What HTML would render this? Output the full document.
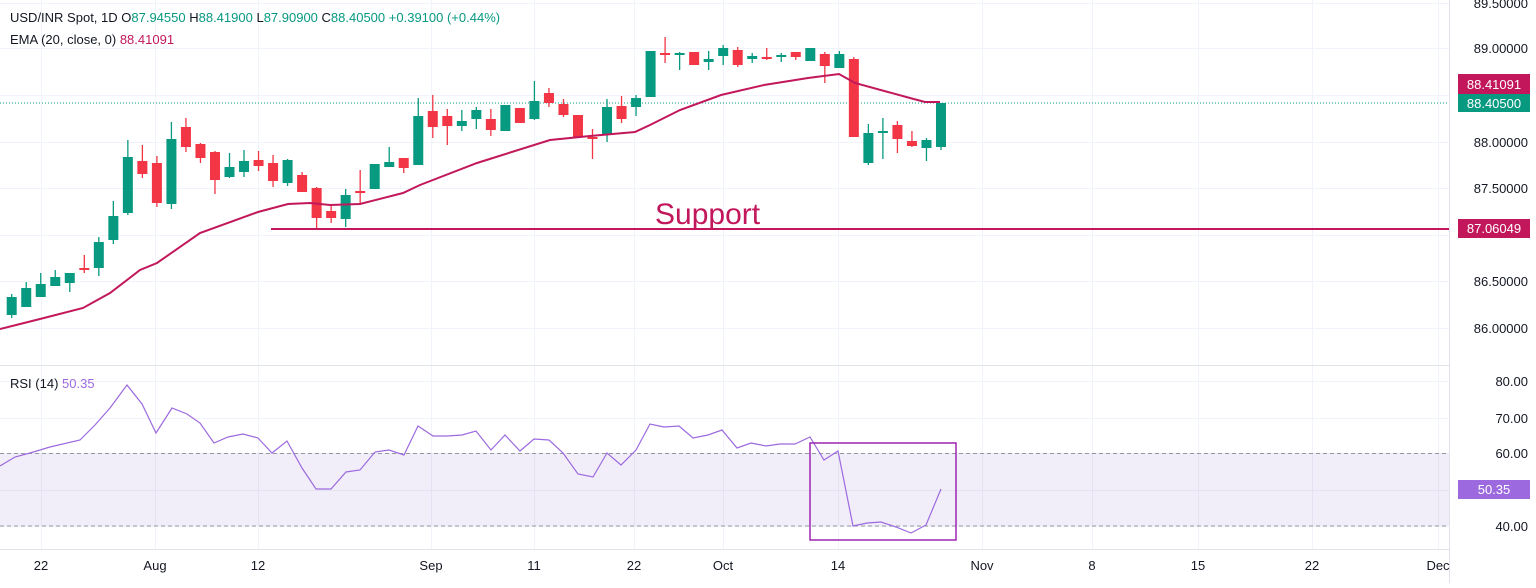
<!DOCTYPE html>
<html><head><meta charset="utf-8"><style>
body{margin:0;background:#fff;width:1536px;height:583px;overflow:hidden;font-family:"Liberation Sans",sans-serif}
svg text{font-family:"Liberation Sans",sans-serif}
</style></head><body>
<svg id="s" width="1536" height="583" xmlns="http://www.w3.org/2000/svg">
<g id="grid" stroke="#f0f3fa" stroke-width="1"></g>
<rect x="0" y="453.5" width="1449" height="72.5" fill="#7e57c2" fill-opacity="0.1"/>
<line x1="0" y1="453.5" x2="1449" y2="453.5" stroke="#9598a1" stroke-dasharray="4,3"/>
<line x1="0" y1="526" x2="1449" y2="526" stroke="#9598a1" stroke-dasharray="4,3"/>
<line x1="0" y1="103" x2="1449" y2="103" stroke="#089981" stroke-dasharray="1,2"/>
<g id="c"></g>
<polyline fill="none" stroke="#c2185b" stroke-width="2" points="0,329 40,319 83,308 110,293 140,270 157,263 200,233 258,212 288,204 310,203 330,205 360,204 403,193 420,185 477,163 550,140 590,136 635,132 650,125 680,110 721,95 764,85 808,78 839,74 855,83 910,98 925,102 940,102"/>
<line x1="271" y1="229" x2="1449" y2="229" stroke="#c2185b" stroke-width="2"/>
<text x="655" y="224" font-size="30" fill="#c2185b">Support</text>
<line x1="0" y1="365.5" x2="1449" y2="365.5" stroke="#e0e3eb"/>
<line x1="1449.5" y1="0" x2="1449.5" y2="583" stroke="#e0e3eb"/>
<line x1="0" y1="549.5" x2="1449" y2="549.5" stroke="#e0e3eb"/>
<polyline fill="none" stroke="#9c6ade" stroke-width="1.2" points="0,466 15,457 30,453 50,447 80,440 95,425 110,408 127,385 142,404 156,433 172,408 187,414 200,423 214,443 228,437 243,434 258,438 272,453 287,441 302,468 316,489 331,489 346,472 360,470 375,452 389,450 404,455 418,426 433,436 447,436 462,435 476,431 491,450 505,435 520,451 534,439 549,440 563,453 578,474 593,477 607,453 621,465 636,450 650,424 664,427 679,426 693,438 708,435 722,430 737,448 751,443 766,446 780,444 795,444 810,437 824,460 838,451 853,526 867,523 881,522 896,527 911,533 926,525 941,489"/>
<rect x="810" y="443" width="146" height="97" fill="none" stroke="#9c27b0" stroke-width="1.5"/>
<g font-size="13" fill="#131722">
<text x="10" y="22">USD/INR Spot, 1D  O<tspan fill="#089981">87.94550</tspan>  H<tspan fill="#089981">88.41900</tspan>  L<tspan fill="#089981">87.90900</tspan>  C<tspan fill="#089981">88.40500</tspan>  <tspan fill="#089981">+0.39100 (+0.44%)</tspan></text>
<text x="10" y="44">EMA (20, close, 0)  <tspan fill="#c2185b">88.41091</tspan></text>
<text x="10" y="388">RSI (14)  <tspan fill="#9c6ade">50.35</tspan></text>
</g>
<g font-size="13" fill="#131722" text-anchor="end">
<text x="1528" y="8">89.50000</text>
<text x="1528" y="53">89.00000</text>
<text x="1528" y="147">88.00000</text>
<text x="1528" y="193">87.50000</text>
<text x="1528" y="286">86.50000</text>
<text x="1528" y="333">86.00000</text>
<text x="1528" y="386">80.00</text>
<text x="1528" y="423">70.00</text>
<text x="1528" y="458">60.00</text>
<text x="1528" y="531">40.00</text>
</g>
<rect x="1458" y="74" width="72" height="20" fill="#c2185b"/><text x="1494" y="89" font-size="13" fill="#fff" text-anchor="middle">88.41091</text>
<rect x="1458" y="94" width="72" height="18" fill="#089981"/><text x="1494" y="108" font-size="13" fill="#fff" text-anchor="middle">88.40500</text>
<rect x="1458" y="219" width="72" height="19" fill="#c2185b"/><text x="1494" y="233" font-size="13" fill="#fff" text-anchor="middle">87.06049</text>
<rect x="1458" y="480" width="72" height="19" fill="#9c6ade"/><text x="1494" y="494" font-size="13" fill="#fff" text-anchor="middle">50.35</text>
<g font-size="13" fill="#131722" text-anchor="middle">
<text x="41" y="570">22</text><text x="155" y="570">Aug</text><text x="258" y="570">12</text><text x="431" y="570">Sep</text><text x="534" y="570">11</text><text x="634" y="570">22</text><text x="723" y="570">Oct</text><text x="838" y="570">14</text><text x="982" y="570">Nov</text><text x="1092" y="570">8</text><text x="1198" y="570">15</text><text x="1312" y="570">22</text><text x="1438" y="570">Dec</text>
</g>
</svg>
<script>
var NS="http://www.w3.org/2000/svg";
function el(p,t,a){var e=document.createElementNS(NS,t);for(var k in a)e.setAttribute(k,a[k]);p.appendChild(e);return e;}
var g=document.getElementById("grid");
[3,48,95,142,188,235,281,328,381,418,453,490,526].forEach(function(y){el(g,"line",{x1:0,x2:1449,y1:y+.5,y2:y+.5});});
[41,155,258,431,534,634,723,838,982,1092,1198,1312,1438].forEach(function(x){el(g,"line",{x1:x+.5,x2:x+.5,y1:0,y2:549});});
var d=[
[294,318,297,315,1],[282,307,288,307,1],[273,297,284,297,1],[270,286,277,286,1],[273,292,273,283,1],[255,273,268,270,0],[237,276,242,268,1],[201,244,216,240,1],[140,215,157,213,1],[145,178,161,174,0],[156,207,163,203,0],[122,209,139,204,1],[118,152,127,147,0],[143,163,144,158,0],[151,194,152,180,0],[153,178,167,177,1],[150,177,161,172,1],[151,171,160,166,0],[155,187,163,181,0],[159,186,160,183,1],[172,192,175,192,0],[187,228,188,218,0],[204,223,211,218,0],[189,227,195,219,1],[170,205,191,193,0],[164,189,164,189,1],[147,167,162,167,1],[158,173,158,168,0],[98,165,116,165,1],[95,138,111,127,0],[109,145,116,126,0],[110,131,121,126,1],[107,129,110,119,1],
[109,136,119,130,0],[105,131,105,131,1],[108,123,108,123,0],[81,120,101,119,1],[88,107,93,103,0],[99,117,104,115,0],[115,137,115,137,0],[129,159,137,139,0],[99,142,107,134,1],[96,123,106,119,0],[95,116,98,107,1],[51,97,51,97,1],[37,63,53,55,0],[52,70,53,55,1],[52,65,52,65,0],[51,70,59,62,1],[45,65,48,56,1],[47,67,50,65,0],[53,63,56,59,1],[48,60,57,59,0],[53,62,55,57,1],[52,60,52,57,0],[48,61,48,61,1],[52,83,54,66,0],[51,68,54,68,1],[57,137,59,137,0],[124,165,133,163,1],[118,159,131,133,1],[121,153,125,139,0],[131,147,141,146,0],[138,161,140,148,1],[103,150,103,147,1]];
var c=document.getElementById("c");
d.forEach(function(a,i){var x=11.7+14.52*i,col=a[4]?"#089981":"#f23645";
el(c,"line",{x1:x,x2:x,y1:a[0],y2:a[1],stroke:col,"stroke-width":1.3});
el(c,"rect",{x:x-5,y:a[2],width:10,height:Math.max(2,a[3]-a[2]),fill:col});});
</script>
</body></html>
